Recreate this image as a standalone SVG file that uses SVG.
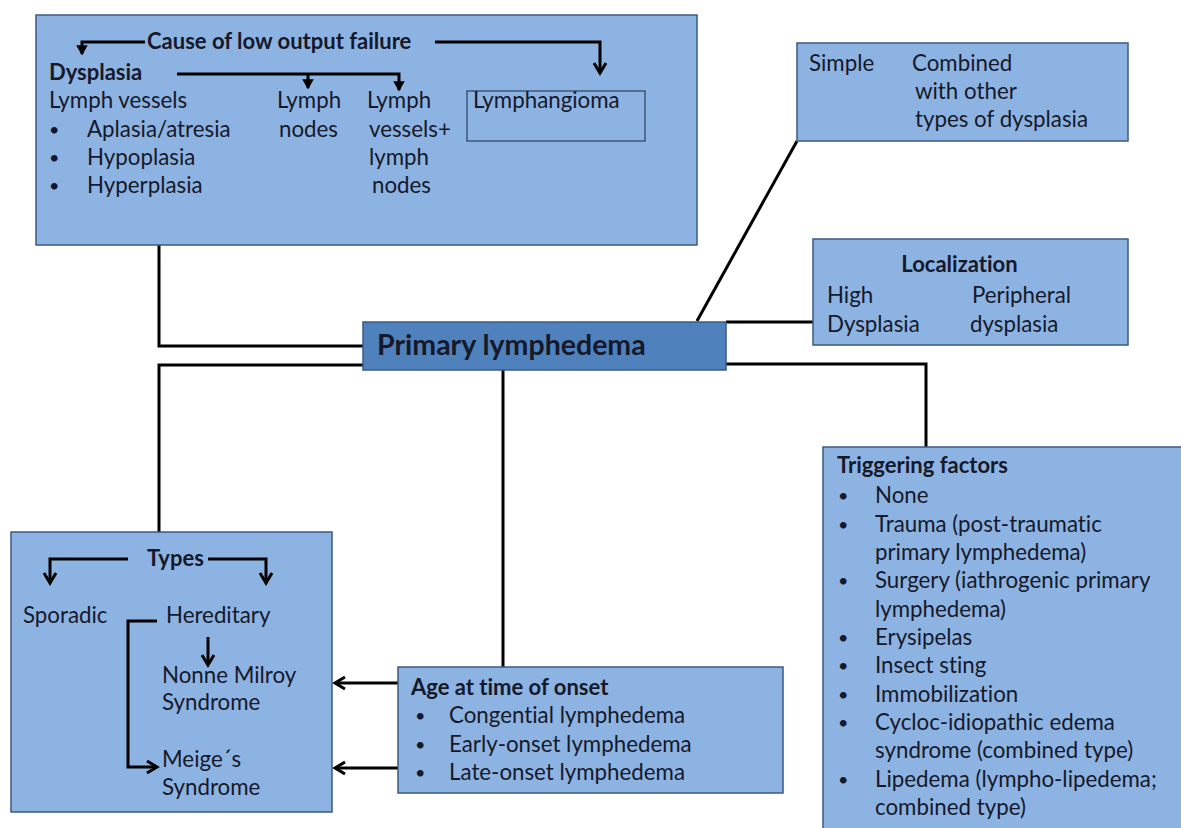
<svg xmlns="http://www.w3.org/2000/svg" width="1181" height="828" viewBox="0 0 1181 828">
<defs>
<style>
.box{fill:#8db3e2;stroke:#3c5a82;stroke-width:1.5}
.main{fill:#4f81bd;stroke:#3c5a82;stroke-width:1.5}
.thin{fill:none;stroke:#2a3f5e;stroke-width:1.2}
.t{font-family:Lato,"Open Sans",sans-serif;font-size:22.3px;fill:#15192a;font-variant-ligatures:none}
.d{font-family:Lato,"Open Sans",sans-serif;font-size:18px;fill:#15192a}
.b{font-weight:bold;font-size:22px}
.big{font-size:28.5px}
.c{fill:none;stroke:#000;stroke-width:3}
</style>
<marker id="ah" markerUnits="userSpaceOnUse" markerWidth="16" markerHeight="16" refX="12" refY="8" orient="auto">
<path d="M2,2 L12,8 L2,14" fill="none" stroke="#000" stroke-width="3"/>
</marker>
<marker id="as" markerUnits="userSpaceOnUse" markerWidth="12" markerHeight="12" refX="9" refY="6" orient="auto">
<path d="M1,1.5 L9,6 L1,10.5 Z" fill="#000" stroke="#000" stroke-width="1.5"/>
</marker>
</defs>
<rect width="1181" height="828" fill="#fff"/>
<g id="connectors">
<path class="c" d="M159,245 V346 H363"/>
<path class="c" d="M363,365 H159 V532"/>
<path class="c" d="M503,370 V667"/>
<path class="c" d="M697,321 L797,141"/>
<path class="c" d="M726,322 H813"/>
<path class="c" d="M726,364 H926 V447"/>
<path class="c" d="M398,683 H335" marker-end="url(#ah)"/>
<path class="c" d="M398,768 H335" marker-end="url(#ah)"/>
</g>
<g id="cause">
<rect class="box" x="36" y="15" width="661" height="230"/>
<rect class="thin" x="467" y="91" width="178" height="50"/>
<path class="c" d="M145,42 H82 V54" marker-end="url(#as)"/>
<path class="c" d="M435,42 H600 V73" marker-end="url(#ah)"/>
<path class="c" d="M177,74 H399 V90" marker-end="url(#as)"/>
<path class="c" d="M308,74 V88" marker-end="url(#as)"/>
<text class="t b" x="147" y="49">Cause of low output failure</text>
<text class="t b" x="49" y="80">Dysplasia</text>
<text class="t" x="49" y="108">Lymph vessels</text>
<text class="d" x="49" y="136">•</text><text class="t" x="87" y="137">Aplasia/atresia</text>
<text class="d" x="49" y="164">•</text><text class="t" x="87" y="165">Hypoplasia</text>
<text class="d" x="49" y="192">•</text><text class="t" x="87" y="193">Hyperplasia</text>
<text class="t" x="277" y="108">Lymph</text>
<text class="t" x="279" y="137">nodes</text>
<text class="t" x="367" y="108">Lymph</text>
<text class="t" x="369" y="137">vessels+</text>
<text class="t" x="369" y="165">lymph</text>
<text class="t" x="372" y="193">nodes</text>
<text class="t" x="473" y="108">Lymphangioma</text>
</g>
<g id="simple">
<rect class="box" x="797" y="43" width="331" height="98"/>
<text class="t" x="809" y="71">Simple</text>
<text class="t" x="912" y="71">Combined</text>
<text class="t" x="915" y="99">with other</text>
<text class="t" x="915" y="127">types of dysplasia</text>
</g>
<g id="localization">
<rect class="box" x="813" y="239" width="315" height="106"/>
<text class="t b" x="959.5" y="272" text-anchor="middle">Localization</text>
<text class="t" x="827" y="303">High</text>
<text class="t" x="972" y="303">Peripheral</text>
<text class="t" x="827" y="332">Dysplasia</text>
<text class="t" x="970" y="332">dysplasia</text>
</g>
<g id="primary">
<rect class="main" x="363" y="322" width="363" height="48"/>
<text class="t b big" x="377" y="355">Primary lymphedema</text>
</g>
<g id="types">
<rect class="box" x="11" y="532" width="321" height="280"/>
<path class="c" d="M128,559 H50 V583" marker-end="url(#ah)"/>
<path class="c" d="M208,559 H266 V583" marker-end="url(#ah)"/>
<path class="c" d="M157,621 H128 V767 H157" marker-end="url(#ah)"/>
<path class="c" d="M208,637 V665" marker-end="url(#ah)"/>
<text class="t b" x="147" y="566">Types</text>
<text class="t" x="23" y="623">Sporadic</text>
<text class="t" x="166" y="623">Hereditary</text>
<text class="t" x="162" y="683">Nonne Milroy</text>
<text class="t" x="162" y="710">Syndrome</text>
<text class="t" x="162" y="767">Meige´s</text>
<text class="t" x="162" y="795">Syndrome</text>
</g>
<g id="age">
<rect class="box" x="398" y="667" width="385" height="126"/>
<text class="t b" x="411" y="695">Age at time of onset</text>
<text class="d" x="415" y="722">•</text><text class="t" x="449" y="723">Congential lymphedema</text>
<text class="d" x="415" y="751">•</text><text class="t" x="449" y="752">Early-onset lymphedema</text>
<text class="d" x="415" y="779">•</text><text class="t" x="449" y="780">Late-onset lymphedema</text>
</g>
<g id="triggering">
<rect class="box" x="823" y="447" width="370" height="400"/>
<text class="t b" x="837" y="473">Triggering factors</text>
<text class="d" x="838" y="502">•</text><text class="t" x="875" y="503">None</text>
<text class="d" x="838" y="531">•</text><text class="t" x="875" y="532">Trauma (post-traumatic</text>
<text class="t" x="875" y="560">primary lymphedema)</text>
<text class="d" x="838" y="587">•</text><text class="t" x="875" y="588">Surgery (iathrogenic primary</text>
<text class="t" x="875" y="617">lymphedema)</text>
<text class="d" x="838" y="644">•</text><text class="t" x="875" y="645">Erysipelas</text>
<text class="d" x="838" y="672">•</text><text class="t" x="875" y="673">Insect sting</text>
<text class="d" x="838" y="701">•</text><text class="t" x="875" y="702">Immobilization</text>
<text class="d" x="838" y="729">•</text><text class="t" x="875" y="730">Cycloc-idiopathic edema</text>
<text class="t" x="875" y="758">syndrome (combined type)</text>
<text class="d" x="838" y="786">•</text><text class="t" x="875" y="787">Lipedema (lympho-lipedema;</text>
<text class="t" x="875" y="815">combined type)</text>
</g>
</svg>
